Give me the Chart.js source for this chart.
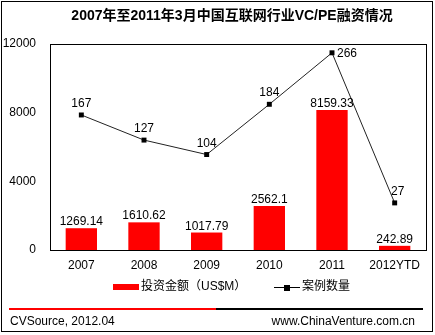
<!DOCTYPE html>
<html>
<head>
<meta charset="utf-8">
<script src="https://cdn.jsdelivr.net/npm/chart.js@4"></script>
<style>
  body { margin: 0; background: #fff; }
  canvas { display: block; }
</style>
</head>
<body>
<canvas id="chart" width="435" height="335"></canvas>
<script>
// data
const years = ['2007', '2008', '2009', '2010', '2011', '2012YTD'];
const amounts = [1269.14, 1610.62, 1017.79, 2562.1, 8159.33, 242.89];   // 投资金额 US$M
const deals = [167, 127, 104, 184, 266, 27];                            // 案例数量
const amountTicks = [0, 4000, 8000, 12000];

const titleText = '2007年至2011年3月中国互联网行业VC/PE融资情况';
const amountLabel = '投资金额（US$M）';
const dealLabel = '案例数量';
const sourceText = 'CVSource, 2012.04';
const siteText = 'www.ChinaVenture.com.cn';

const FONT = 'Arial, "Liberation Sans", "Noto Sans CJK SC", sans-serif';

// frame, title, value labels, legend and footer
const decorations = {
    id: 'decorations',
    afterDraw(chart) {
        const ctx = chart.ctx;
        const area = chart.chartArea;
        ctx.save();

        // outer frame
        ctx.strokeStyle = '#000';
        ctx.lineWidth = 1;
        ctx.strokeRect(1.5, 1.5, 431, 330);

        // plot box
        ctx.strokeRect(Math.round(area.left) + 0.5, Math.round(area.top) + 0.5,
            Math.round(area.right - area.left), Math.round(area.bottom - area.top));

        // title
        ctx.fillStyle = '#000';
        ctx.font = 'bold 14px ' + FONT;
        ctx.textAlign = 'center';
        ctx.textBaseline = 'middle';
        ctx.fillText(titleText, 232, 16);

        // bar labels
        ctx.font = '12px ' + FONT;
        ctx.textBaseline = 'alphabetic';
        const barMeta = chart.getDatasetMeta(1);
        barMeta.data.forEach((bar, i) => {
            ctx.fillText(String(amounts[i]), bar.x, bar.y - 3);
        });

        // line labels
        const lineMeta = chart.getDatasetMeta(0);
        const peak = deals.indexOf(Math.max(...deals));
        lineMeta.data.forEach((pt, i) => {
            if (i === peak) {
                ctx.textAlign = 'left';
                ctx.textBaseline = 'middle';
                ctx.fillText(String(deals[i]), pt.x + 5, pt.y + 1);
            } else {
                ctx.textAlign = 'center';
                ctx.textBaseline = 'alphabetic';
                ctx.fillText(String(deals[i]), pt.x + (i === deals.length - 1 ? 3 : 0), pt.y - 8);
            }
        });

        // legend
        const ly = 287;
        ctx.fillStyle = '#ff0000';
        ctx.fillRect(113, ly - 3, 26, 6);
        ctx.fillStyle = '#000';
        ctx.textAlign = 'left';
        ctx.textBaseline = 'middle';
        ctx.fillText(amountLabel, 141, ly);
        ctx.beginPath();
        ctx.moveTo(274, ly + 0.5);
        ctx.lineTo(300, ly + 0.5);
        ctx.stroke();
        ctx.fillRect(284, ly - 2, 6, 6);
        ctx.fillText(dealLabel, 302, ly);

        // footer rule
        ctx.lineWidth = 2;
        ctx.strokeStyle = '#ff0000';
        ctx.beginPath();
        ctx.moveTo(9, 309);
        ctx.lineTo(216, 309);
        ctx.stroke();
        ctx.strokeStyle = '#000';
        ctx.beginPath();
        ctx.moveTo(216, 309);
        ctx.lineTo(423, 309);
        ctx.stroke();

        // footer text
        ctx.textBaseline = 'middle';
        ctx.textAlign = 'left';
        ctx.fillText(sourceText, 10, 322);
        ctx.textAlign = 'right';
        ctx.fillText(siteText, 415, 322);

        ctx.restore();
    }
};

new Chart(document.getElementById('chart'), {
    data: {
        labels: years,
        datasets: [
            {
                type: 'line',
                label: dealLabel,
                data: deals,
                yAxisID: 'y2',
                order: 0,
                borderColor: '#222',
                borderWidth: 1,
                pointStyle: 'rect',
                pointRadius: 3.5,
                pointBackgroundColor: '#000',
                pointBorderColor: '#000',
                pointBorderWidth: 0,
                tension: 0
            },
            {
                type: 'bar',
                label: amountLabel,
                data: amounts,
                yAxisID: 'y',
                order: 1,
                backgroundColor: '#ff0000',
                barPercentage: 0.5,
                categoryPercentage: 1
            }
        ]
    },
    options: {
        responsive: false,
        animation: false,
        layout: { padding: { left: 0, right: 9, top: 44, bottom: 65 } },
        plugins: {
            legend: { display: false },
            tooltip: { enabled: false }
        },
        scales: {
            x: {
                grid: { display: false, drawTicks: false },
                border: { display: true, color: '#000' },
                ticks: { color: '#000', font: { family: FONT, size: 12 }, padding: 8, maxRotation: 0 },
                afterFit(scale) { scale.height = 20; }
            },
            y: {
                min: 0,
                max: 12000,
                afterBuildTicks(scale) { scale.ticks = amountTicks.map(v => ({ value: v })); },
                grid: { display: false, drawTicks: false },
                border: { display: true, color: '#000' },
                ticks: {
                    color: '#000',
                    font: { family: FONT, size: 12 },
                    padding: 14,
                    callback: v => String(v)
                },
                afterFit(scale) { scale.width = 50; }
            },
            y2: {
                display: false,
                min: -48,
                max: 280
            }
        }
    },
    plugins: [decorations]
});
</script>
</body>
</html>
